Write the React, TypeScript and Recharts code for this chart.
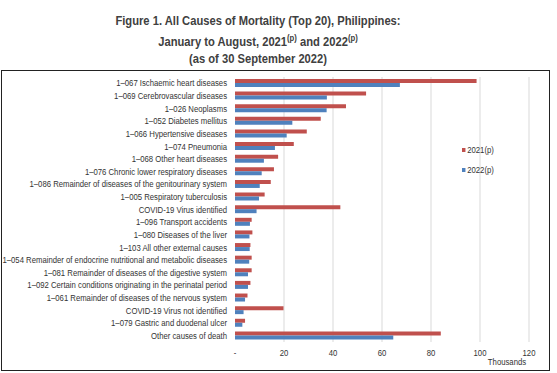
import React from 'react';
import { BarChart, Bar, XAxis, YAxis, CartesianGrid, Legend } from 'recharts';

const causes = [
  '1–067 Ischaemic heart diseases',
  '1–069 Cerebrovascular diseases',
  '1–026 Neoplasms',
  '1–052 Diabetes mellitus',
  '1–066 Hypertensive diseases',
  '1–074 Pneumonia',
  '1–068 Other heart diseases',
  '1–076 Chronic lower respiratory diseases',
  '1–086 Remainder of diseases of the genitourinary system',
  '1–005 Respiratory tuberculosis',
  'COVID-19 Virus identified',
  '1–096 Transport accidents',
  '1–080 Diseases of the liver',
  '1–103 All other external causes',
  '1–054 Remainder of endocrine nutritional and metabolic diseases',
  '1–081 Remainder of diseases of the digestive system',
  '1–092 Certain conditions originating in the perinatal period',
  '1–061 Remainder of diseases of the nervous system',
  'COVID-19 Virus not identified',
  '1–079 Gastric and duodenal ulcer',
  'Other causes of death',
];

// thousands of deaths
const deaths2021 = [98.6, 53.5, 45.3, 35.0, 29.3, 24.0, 17.6, 15.9, 14.6, 12.1, 43.0, 6.8, 7.1, 6.3, 6.8, 6.8, 6.3, 5.1, 19.8, 4.1, 84.0];
const deaths2022 = [67.3, 37.5, 37.4, 23.4, 21.1, 16.3, 11.8, 10.9, 10.1, 9.8, 8.8, 6.1, 5.9, 6.0, 5.8, 5.3, 5.3, 4.1, 3.5, 3.0, 64.6];

const xTicks = [0, 20, 40, 60, 80, 100, 120];

const RED = '#C0504D';
const BLUE = '#4F81BD';
const FONT = "Arial, 'Liberation Sans', sans-serif";

const data = causes.map((name, i) => ({ name, y2021: deaths2021[i], y2022: deaths2022[i] }));

const CatTick = (props: any) => {
  const { x, y, payload } = props;
  return (
    <g transform={`translate(${x},${y})`}>
      <text transform="scale(0.86,1)" textAnchor="end" dy="0.35em" fontSize={9} fill="#333" fontFamily={FONT}>
        {payload.value}
      </text>
    </g>
  );
};

const NumTick = (props: any) => {
  const { x, y, payload } = props;
  return (
    <g transform={`translate(${x},${y})`}>
      <text transform="scale(0.86,1)" textAnchor="middle" dy="0.71em" fontSize={9} fill="#333" fontFamily={FONT}>
        {payload.value === 0 ? '-' : payload.value}
      </text>
    </g>
  );
};

const renderLegend = (props: any) => {
  const { payload } = props;
  return (
    <div style={{ fontFamily: FONT, fontSize: 9, color: '#333' }}>
      {payload.map((entry: any, i: number) => (
        <div key={`leg-${i}`} style={{ display: 'flex', alignItems: 'center', height: 20, transform: 'scaleX(0.86)', transformOrigin: 'left center' }}>
          <div style={{ width: 4, height: 4, background: entry.color, marginRight: 2 }} />
          <span>{entry.value}</span>
        </div>
      ))}
    </div>
  );
};

const titleLine: React.CSSProperties = {
  position: 'absolute',
  left: 0,
  width: 516,
  textAlign: 'center',
  fontFamily: FONT,
  fontWeight: 'bold',
  fontSize: 13,
  lineHeight: '15px',
  color: '#404040',
  transform: 'scaleX(0.86)',
  whiteSpace: 'nowrap',
};

const sup: React.CSSProperties = { fontSize: 9, position: 'relative', top: -5 };

export default function App() {
  return (
    <div style={{ position: 'absolute', left: 0, top: 0, width: 557, height: 373, background: '#fff' }}>
      <div style={{ ...titleLine, top: 12.5 }}>Figure 1. All Causes of Mortality (Top 20), Philippines:</div>
      <div style={{ ...titleLine, top: 33.5 }}>
        January to August, 2021<span style={sup}>(p)</span> and 2022<span style={sup}>(p)</span>
      </div>
      <div style={{ ...titleLine, top: 50.5 }}>(as of 30 September 2022)</div>
      <div style={{ position: 'absolute', left: 1, top: 70, width: 547, height: 299, border: '1px solid #222' }} />
      <div style={{ position: 'absolute', left: 0, top: 0 }}>
        <BarChart
          width={557}
          height={373}
          data={data}
          layout="vertical"
          margin={{ top: 77, right: 28, bottom: 1, left: 0 }}
          barGap={0}
        >
          <CartesianGrid
            horizontal={false}
            stroke="#d9d9d9"
            verticalCoordinatesGenerator={({ offset }: any) =>
              xTicks.filter((t) => t > 0).map((t) => offset.left + (t / 120) * offset.width)
            }
          />
          <XAxis
            type="number"
            domain={[0, 120]}
            ticks={xTicks}
            axisLine={false}
            tickLine={false}
            tick={<NumTick />}
            height={30}
            interval={0}
          />
          <YAxis
            type="category"
            dataKey="name"
            width={235}
            axisLine={false}
            tickLine={false}
            tick={<CatTick />}
            interval={0}
          />
          <Legend
            layout="vertical"
            align="center"
            verticalAlign="middle"
            content={renderLegend}
            wrapperStyle={{ position: 'absolute', left: 462, top: 140, width: 60 }}
          />
          <Bar dataKey="y2021" name="2021(p)" fill={RED} barSize={4} isAnimationActive={false} />
          <Bar dataKey="y2022" name="2022(p)" fill={BLUE} barSize={4} isAnimationActive={false} />
        </BarChart>
      </div>
      <div
        style={{
          position: 'absolute',
          left: 470,
          top: 357,
          width: 74,
          textAlign: 'center',
          fontFamily: FONT,
          fontSize: 9,
          color: '#333',
          transform: 'scaleX(0.86)',
        }}
      >
        Thousands
      </div>
    </div>
  );
}
